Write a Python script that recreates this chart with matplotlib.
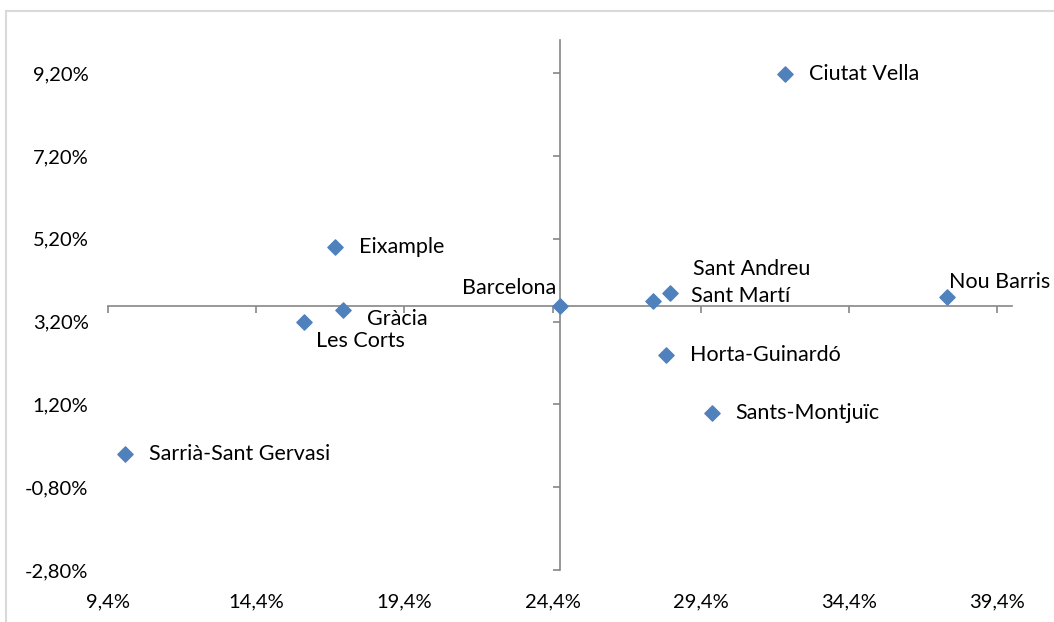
import numpy as np
import matplotlib.pyplot as plt
from matplotlib.lines import Line2D

districts = ['Ciutat Vella', 'Eixample', 'Gràcia', 'Les Corts', 'Sarrià-Sant Gervasi',
             'Barcelona', 'Sant Andreu', 'Sant Martí', 'Horta-Guinardó',
             'Sants-Montjuïc', 'Nou Barris']
x_vals = [32.25, 17.06, 17.33, 16.00, 9.97, 24.65, 27.79, 28.37, 28.23, 29.78, 37.72]
y_vals = [9.18, 5.00, 3.47, 3.19, 0.00, 3.57, 3.69, 3.89, 2.39, 0.99, 3.79]

x_ticks = [9.4, 14.4, 19.4, 24.4, 29.4, 34.4, 39.4]
y_ticks = [-2.8, -0.8, 1.2, 3.2, 5.2, 7.2, 9.2]

# label offsets in points (dx, dy, ha)
offsets = {
    'Ciutat Vella': (17, 0, 'left'),
    'Eixample': (17, 0, 'left'),
    'Gràcia': (17, -6, 'left'),
    'Les Corts': (9, -14, 'left'),
    'Sarrià-Sant Gervasi': (17, 0, 'left'),
    'Barcelona': (-3, 13, 'right'),
    'Sant Andreu': (29, 23, 'left'),
    'Sant Martí': (15, -2, 'left'),
    'Horta-Guinardó': (17, 0, 'left'),
    'Sants-Montjuïc': (17, 0, 'left'),
    'Nou Barris': (1, 11, 'left'),
}

plt.rcParams['font.family'] = ['Lato', 'DejaVu Sans']

fig = plt.figure(figsize=(10.54, 6.22), dpi=100)
pos = [108 / 1054, 1 - 570 / 622, (1012 - 108) / 1054, (570 - 40) / 622]
xlim = (9.4, 39.9)
ylim = (-2.8, 10.0)

# axes for tick labels at the frame edges
ax = fig.add_axes(pos)
ax.set_xlim(*xlim)
ax.set_ylim(*ylim)
for s in ax.spines.values():
    s.set_visible(False)
ax.set_xticks(x_ticks)
ax.set_yticks(y_ticks)
ax.set_xticklabels([('%.1f%%' % t).replace('.', ',') for t in x_ticks])
ax.set_yticklabels([('%.2f%%' % t).replace('.', ',') for t in y_ticks])
ax.tick_params(axis='x', length=0, pad=17, labelsize=14.5)
ax.tick_params(axis='y', length=0, pad=14, labelsize=14.5)

# overlay axes with crossing axis lines
axc = fig.add_axes(pos, sharex=ax, sharey=ax)
axc.patch.set_visible(False)
axc.spines['top'].set_visible(False)
axc.spines['right'].set_visible(False)
axc.spines['left'].set_position(('data', 24.65))
axc.spines['bottom'].set_position(('data', 3.57))
for k in ['left', 'bottom']:
    axc.spines[k].set_color('#868686')
    axc.spines[k].set_linewidth(1.2)
axc.tick_params(axis='both', length=5, width=1.2, color='#868686',
                labelbottom=False, labelleft=False, direction='out')

axc.scatter(x_vals, y_vals, marker='D', s=60, color='#4F81BD', zorder=5,
            clip_on=False)
for name, xv, yv in zip(districts, x_vals, y_vals):
    dx, dy, ha = offsets[name]
    axc.annotate(name, (xv, yv), xytext=(dx, dy), textcoords='offset points',
                 ha=ha, va='center', fontsize=15.5, color='black')

# outer chart border (top and left visible)
fig.add_artist(Line2D([6 / 1054, 1], [1 - 11 / 622, 1 - 11 / 622],
                      transform=fig.transFigure, color='#D9D9D9', lw=1.5))
fig.add_artist(Line2D([6 / 1054, 6 / 1054], [0, 1 - 11 / 622],
                      transform=fig.transFigure, color='#D9D9D9', lw=1.5))

fig.savefig('out.png', dpi=100)
